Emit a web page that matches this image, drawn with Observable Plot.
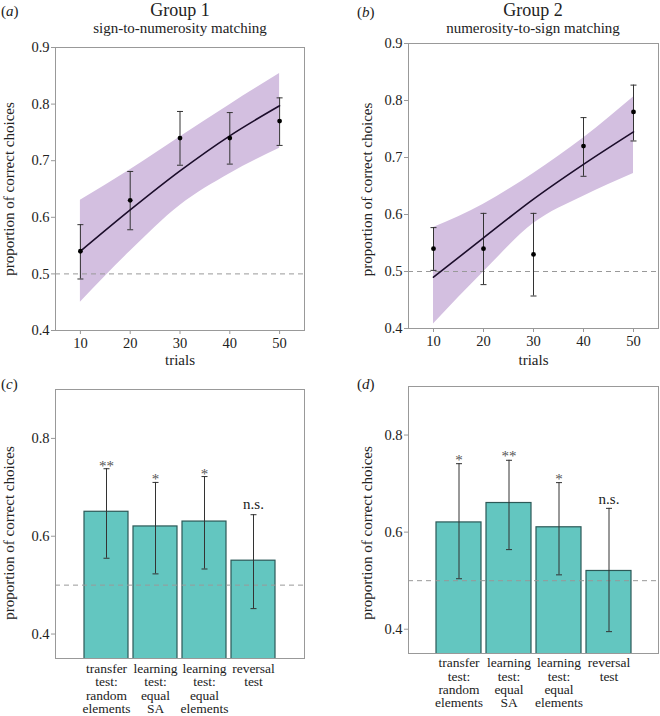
<!DOCTYPE html>
<html>
<head>
<meta charset="utf-8">
<script src="https://cdn.jsdelivr.net/npm/d3@7"></script>
<script src="https://cdn.jsdelivr.net/npm/@observablehq/plot@0.6"></script>
<style>
  body { margin: 0; background: #fff; }
  #fig { position: relative; width: 660px; height: 716px; font-family: "Liberation Serif", "DejaVu Serif", serif; color: #222; }
  #fig svg, #fig svg text, #fig svg tspan { font-family: "Liberation Serif", serif !important; }
  #ann { position: absolute; left: 0; top: 0; }
  .panel { position: absolute; }
  .panel svg { overflow: visible; }
</style>
</head>
<body>
<div id="fig">
  <svg id="ann" width="660" height="716" font-family="Liberation Serif" fill="#222">
    <text x="1" y="16" font-size="15">(<tspan font-style="italic">a</tspan>)</text>
    <text x="180" y="16" font-size="18" text-anchor="middle">Group 1</text>
    <text x="180" y="33" font-size="15" text-anchor="middle">sign-to-numerosity matching</text>
    <text x="357" y="17" font-size="15">(<tspan font-style="italic">b</tspan>)</text>
    <text x="533" y="16" font-size="18" text-anchor="middle">Group 2</text>
    <text x="533" y="33" font-size="15" text-anchor="middle">numerosity-to-sign matching</text>
    <text x="1" y="389" font-size="15">(<tspan font-style="italic">c</tspan>)</text>
    <text x="357" y="389" font-size="15">(<tspan font-style="italic">d</tspan>)</text>
  </svg>
</div>
<script>
// ---------- data ----------
const trials = [10, 20, 30, 40, 50];
const xTicks = [10, 20, 30, 40, 50];
const yTicksTop = [0.4, 0.5, 0.6, 0.7, 0.8, 0.9];
const yTicksBar = [0.4, 0.6, 0.8];
const chance = 0.5;

// Group 1 (sign-to-numerosity)
const g1Mean = [0.54, 0.63, 0.74, 0.74, 0.77];
const g1Lo   = [0.491, 0.578, 0.692, 0.694, 0.727];
const g1Hi   = [0.587, 0.681, 0.787, 0.785, 0.811];
const g1Fit    = [0.54, 0.613, 0.682, 0.744, 0.797];
const g1BandLo = [0.45, 0.54, 0.621, 0.677, 0.722];
const g1BandHi = [0.63, 0.684, 0.742, 0.799, 0.854];

// Group 2 (numerosity-to-sign)
const g2Mean = [0.54, 0.54, 0.53, 0.72, 0.78];
const g2Lo   = [0.502, 0.477, 0.457, 0.667, 0.729];
const g2Hi   = [0.577, 0.602, 0.602, 0.770, 0.827];
const g2Fit    = [0.49, 0.559, 0.627, 0.688, 0.745];
const g2BandLo = [0.408, 0.499, 0.584, 0.632, 0.672];
const g2BandHi = [0.577, 0.618, 0.672, 0.734, 0.806];

// Tests (bar panels)
const tests = ["transfer\ntest:\nrandom\nelements", "learning\ntest:\nequal\nSA", "learning\ntest:\nequal\nelements", "reversal\ntest"];
const cMean = [0.65, 0.62, 0.63, 0.55];
const cLo   = [0.555, 0.523, 0.533, 0.452];
const cHi   = [0.738, 0.71, 0.722, 0.644];
const cSig  = ["**", "*", "*", "n.s."];
const dMean = [0.62, 0.66, 0.61, 0.52];
const dLo   = [0.504, 0.564, 0.512, 0.395];
const dHi   = [0.741, 0.748, 0.702, 0.649];
const dSig  = ["*", "**", "*", "n.s."];

const yLabel = "proportion of correct choices";
const xLabel = "trials";

// ---------- styles ----------
const FONT = "Liberation Serif";
const frameColor = "#999";
const textColor = "#222";
const ribbonColor = "#d3bfe0";
const lineColor = "#1b0d2a";
const barFill = "#63c6c0";
const barStroke = "#2c5957";
const errColor = "#333";

const cap = { draw(ctx, size) { const h = Math.sqrt(size / Math.PI); ctx.moveTo(-h, 0); ctx.lineTo(h, 0); } };

const fig = document.getElementById("fig");
function place(node, left, top) {
  const d = document.createElement("div");
  d.className = "panel";
  d.style.left = left + "px";
  d.style.top = top + "px";
  d.appendChild(node);
  fig.appendChild(d);
}

function trendPanel(o) {
  const pts = trials.map((t, i) => ({t, m: o.mean[i], lo: o.lo[i], hi: o.hi[i]}));
  const fit = trials.map((t, i) => ({t, f: o.fit[i], l: o.bandLo[i], h: o.bandHi[i]}));
  return Plot.plot({
    width: 330, height: 340,
    marginTop: o.mt, marginBottom: o.mb, marginLeft: o.ml, marginRight: o.mr,
    style: {fontFamily: FONT, color: textColor, background: "transparent"},
    x: {domain: [5, 55]},
    y: {domain: [0.4, 0.9]},
    marks: [
      Plot.areaY(fit, {x: "t", y1: "l", y2: "h", fill: ribbonColor, curve: "monotone-x"}),
      Plot.ruleY([chance], {stroke: "#999", strokeDasharray: "5,4"}),
      Plot.ruleX(pts, {x: "t", y1: "lo", y2: "hi", stroke: errColor, strokeWidth: 1}),
      Plot.dot(pts, {x: "t", y: "lo", symbol: cap, r: 3, stroke: errColor, strokeWidth: 1, fill: "none"}),
      Plot.dot(pts, {x: "t", y: "hi", symbol: cap, r: 3, stroke: errColor, strokeWidth: 1, fill: "none"}),
      Plot.line(fit, {x: "t", y: "f", stroke: lineColor, strokeWidth: 1.6, curve: "monotone-x"}),
      Plot.dot(pts, {x: "t", y: "m", r: 2.4, fill: "#000"}),
      Plot.frame({stroke: frameColor}),
      Plot.axisY({ticks: yTicksTop, tickSize: 4, tickPadding: 2, tickFormat: d3.format(".1f"), label: null, stroke: frameColor, fill: textColor, fontSize: 14.5}),
      Plot.axisX({ticks: xTicks, tickSize: 4, tickPadding: 3, label: null, stroke: frameColor, fill: textColor, fontSize: 14.5}),
      Plot.text([xLabel], {frameAnchor: "bottom", lineAnchor: "middle", textAnchor: "middle", dy: o.xlDy, fontSize: 15, fill: textColor}),
      Plot.text([yLabel], {frameAnchor: "left", rotate: -90, textAnchor: "middle", lineAnchor: "middle", dx: o.ylDx, dy: o.ylDy, fontSize: 15, fill: textColor})
    ]
  });
}

function barPanel(o) {
  const rows = tests.map((c, i) => ({c, v: o.mean[i], lo: o.lo[i], hi: o.hi[i], s: o.sig[i]}));
  return Plot.plot({
    width: 330, height: 336,
    marginTop: o.mt, marginBottom: o.mb, marginLeft: o.ml, marginRight: o.mr,
    style: {fontFamily: FONT, color: textColor, background: "transparent"},
    x: {type: "band", domain: tests, paddingInner: 0.1, paddingOuter: 0.546, axis: null},
    y: {domain: [0.35, 0.9]},
    marks: [
      Plot.barY(rows, {x: "c", y: "v", fill: barFill, stroke: barStroke, strokeWidth: 1.2, clip: true}),
      Plot.ruleY([chance], {stroke: "#999", strokeDasharray: "5,4"}),
      Plot.ruleX(rows, {x: "c", y1: "lo", y2: "hi", stroke: errColor, strokeWidth: 1}),
      Plot.dot(rows, {x: "c", y: "lo", symbol: cap, r: 3, stroke: errColor, strokeWidth: 1, fill: "none"}),
      Plot.dot(rows, {x: "c", y: "hi", symbol: cap, r: 3, stroke: errColor, strokeWidth: 1, fill: "none"}),
      Plot.text(rows.filter(d => d.s !== "n.s."), {x: "c", y: "hi", text: "s", lineAnchor: "bottom", dy: o.starDy, fontSize: 15, fill: "#555"}),
      Plot.text(rows.filter(d => d.s === "n.s."), {x: "c", y: "hi", text: "s", lineAnchor: "bottom", dy: o.nsDy, fontSize: 15, fill: textColor}),
      Plot.frame({stroke: frameColor}),
      Plot.axisY({ticks: yTicksBar, tickSize: 4, tickPadding: 2, tickFormat: d3.format(".1f"), label: null, stroke: frameColor, fill: textColor, fontSize: 14.5}),
      Plot.text(tests, {x: d => d, frameAnchor: "bottom", lineAnchor: "top", textAnchor: "middle", dy: o.catDy, lineHeight: 0.985, fontSize: 13.5, fill: textColor}),
      Plot.text([yLabel], {frameAnchor: "left", rotate: -90, textAnchor: "middle", lineAnchor: "middle", dx: o.ylDx, dy: o.ylDy, fontSize: 15, fill: textColor})
    ]
  });
}

place(trendPanel({mean: g1Mean, lo: g1Lo, hi: g1Hi, fit: g1Fit, bandLo: g1BandLo, bandHi: g1BandHi,
  mt: 7, mb: 50, ml: 55, mr: 26, xlDy: 29.5, ylDx: -46, ylDy: 0}), 0, 40);
place(trendPanel({mean: g2Mean, lo: g2Lo, hi: g2Hi, fit: g2Fit, bandLo: g2BandLo, bandHi: g2BandHi,
  mt: 3, mb: 52, ml: 78, mr: 2, xlDy: 32, ylDx: -41, ylDy: 3.5}), 330, 40);
place(barPanel({mean: cMean, lo: cLo, hi: cHi, sig: cSig,
  mt: 9, mb: 58, ml: 55, mr: 26, starDy: 2, nsDy: -6, catDy: 5, ylDx: -46, ylDy: 9}), 0, 380);
place(barPanel({mean: dMean, lo: dLo, hi: dHi, sig: dSig,
  mt: 6, mb: 63, ml: 78, mr: 2, starDy: 1, nsDy: -4, catDy: 4.5, ylDx: -41, ylDy: 13}), 330, 380);
</script>
</body>
</html>
